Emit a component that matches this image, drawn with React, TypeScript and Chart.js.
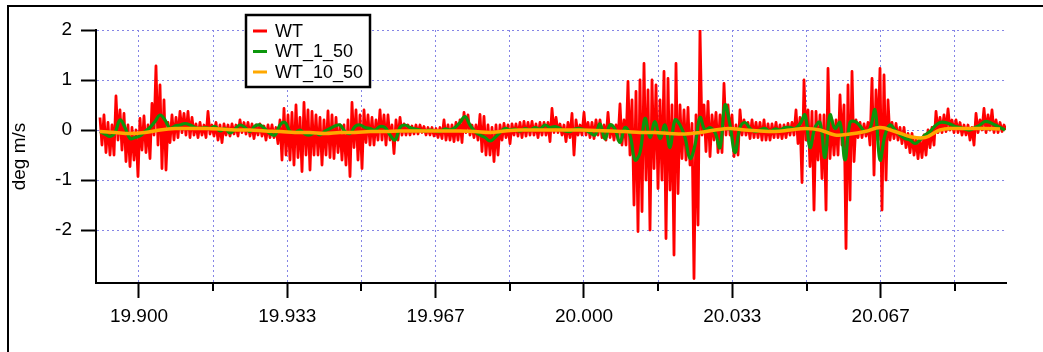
import React, { useEffect, useRef } from 'react';
import { Chart, registerables } from 'chart.js';

Chart.register(...registerables);

const SERIES_NAMES = ['WT', 'WT_1_50', 'WT_10_50'];
const SERIES_COLORS = ['#ff0000', '#0c960c', '#ffa800'];

// Time axis (days)
const X_MIN = 19.89034;
const X_MAX = 20.09483;
const X_MAJOR_TICKS = [19.9, 19.933333, 19.966667, 20.0, 20.033333, 20.066667];
const X_TICK_LABELS = ['19.900', '19.933', '19.967', '20.000', '20.033', '20.067'];
const X_MINOR_TICKS = [19.916667, 19.95, 19.983333, 20.016667, 20.05, 20.083333];
const Y_TICKS = [-2, -1, 0, 1, 2];
const Y_MIN = -3.06;
const Y_MAX = 2;

// Raw WT (min/max pairs), one value every WT_DT days starting at WT_T0
const WT_T0 = 19.891236;
const WT_DT = 0.00044944;
const WT = [
  0.25, -0.3, 0.3, -0.45, 0.15, -0.5, 0.1, -0.5, 0.68, -0.2, 0.4, -0.4, 0.33, -0.63, 0.1, -0.73, 0.05, -0.6, 0.0, -0.93,
  0.23, -0.4, 0.28, -0.45, 0.1, -0.57, 0.53, -0.1, 1.28, -0.3, 0.9, -0.77, 0.6, -0.8, 0.15, -0.25, 0.3, -0.2, 0.25, -0.15,
  0.37, -0.05, 0.33, -0.1, 0.37, -0.15, 0.25, -0.1, 0.12, -0.15, 0.15, -0.1, 0.1, -0.15, 0.37, -0.08, 0.1, -0.12, 0.15, -0.2,
  0.1, -0.25, 0.12, -0.1, 0.1, -0.12, 0.12, -0.08, 0.1, -0.12, 0.2, -0.05, 0.15, -0.08, 0.15, -0.12,

  0.12, -0.17, 0.1, -0.1, 0.12, -0.12, 0.08, -0.2, 0.1, -0.15, 0.1, -0.15, 0.05, -0.27, 0.2, -0.6, 0.43, -0.5, 0.3, -0.6,
  0.35, -0.7, 0.5, -0.55, 0.25, -0.83, 0.55, -0.5, 0.4, -0.8, 0.37, -0.5, 0.3, -0.5, 0.25, -0.7, 0.2, -0.5, 0.38, -0.55,
  0.3, -0.57, 0.25, -0.45, 0.1, -0.6, 0.1, -0.7, 0.2, -0.93, 0.55, -0.35, 0.4, -0.6, 0.3, -0.77, 0.4, -0.25, 0.3, -0.3,
  0.25, -0.3, 0.2, -0.2, 0.4, -0.2, 0.3, -0.3, 0.3, -0.2, 0.1, -0.47, 0.2, -0.2, 0.25, -0.1,

  0.12, -0.1, 0.1, -0.1, 0.08, -0.08, 0.1, -0.08, 0.1, -0.05, 0.07, -0.1, 0.05, -0.1, 0.05, -0.12, 0.03, -0.15, 0.05, -0.17,
  0.2, -0.2, 0.1, -0.2, 0.1, -0.23, 0.15, -0.2, 0.2, -0.25, 0.35, -0.05, 0.3, -0.1, 0.1, -0.15, 0.1, -0.2, 0.31, -0.43,
  0.27, -0.5, 0.1, -0.5, 0.05, -0.63, 0.1, -0.5, 0.1, -0.2, 0.13, -0.15, 0.1, -0.27, 0.12, -0.1, 0.12, -0.12, 0.15, -0.15,
  0.17, -0.12, 0.15, -0.1, 0.17, -0.1, 0.12, -0.15, 0.15, -0.1, 0.15, -0.1, 0.15, -0.23, 0.43, -0.05,

  0.25, -0.05, 0.12, -0.1, 0.1, -0.23, 0.15, -0.15, 0.33, -0.5, 0.2, -0.1, 0.1, -0.1, 0.35, -0.1, 0.15, -0.15, 0.15, -0.17,
  0.2, -0.1, 0.2, -0.15, 0.1, -0.2, 0.35, -0.15, 0.1, -0.2, 0.1, -0.2, 0.52, -0.3, 0.2, -0.3, 0.97, -0.5, 0.6, -1.5,
  0.77, -2.03, 1.0, -1.63, 1.33, -1.0, 0.8, -2.0, 1.0, -0.77, 0.9, -1.17, 0.6, -1.0, 1.17, -2.17, 1.03, -1.2, 0.5, -2.5,
  1.33, -1.27, 0.5, -0.57, 0.4, -0.6, 0.45, -0.7, 0.13, -2.97, 0.3, -1.9, 2.0, -0.1, 0.5, -0.43,

  0.57, -0.53, 0.3, -0.2, 0.35, -0.45, 0.3, -0.45, 0.93, -0.1, 0.5, -0.1, 0.3, -0.53, 0.1, -0.5, 0.4, -0.1, 0.2, -0.1,
  0.15, -0.17, 0.2, -0.15, 0.15, -0.15, 0.15, -0.2, 0.2, -0.2, 0.12, -0.2, 0.12, -0.15, 0.15, -0.15, 0.1, -0.17, 0.1, -0.15,
  0.13, -0.1, 0.15, -0.1, 0.4, -0.27, 0.25, -1.05, 1.0, -0.2, 0.4, -0.73, 0.37, -1.6, 0.37, -0.6, 0.3, -0.97, 0.3, -1.6,
  1.23, -0.57, 0.2, -0.5, 0.2, -0.5, 0.7, -0.3, 0.5, -2.37, 0.9, -1.4, 1.17, -0.63, 0.2, -0.15,

  0.15, -0.15, 0.12, -0.12, 0.15, -0.3, 1.03, -0.9, 0.8, -0.2, 1.23, -1.6, 1.1, -1.0, 0.6, -0.2, 0.15, -0.17, 0.13, -0.2,
  0.05, -0.27, 0.05, -0.35, -0.07, -0.45, -0.07, -0.5, -0.15, -0.57, -0.17, -0.55, -0.1, -0.5, 0.0, -0.35, 0.05, -0.3, 0.37, -0.05,
  0.25, -0.05, 0.3, -0.03, 0.42, 0.0, 0.2, -0.05, 0.2, -0.05, 0.15, -0.1, 0.1, -0.1, 0.1, -0.2, 0.05, -0.3, 0.33, -0.05,
  0.2, 0.0, 0.43, -0.05, 0.3, 0.0, 0.4, -0.05, 0.2, -0.05, 0.15, -0.03, 0.1, 0.0,
];

// WT_1_50, one value every W1_DT days starting at W1_T0
const W1_T0 = 19.891236;
const W1_DT = 0.0011236;
const WT_1_50 = [
  -0.03, -0.08, -0.13, -0.05, 0.2, 0.05, -0.17, -0.15, -0.12, -0.03,
  0.05, 0.17, 0.3, 0.2, 0.03, 0.08, 0.1, 0.13, 0.1, 0.05,
  0.03, 0.05, 0.03, 0.07, -0.02, 0.03, -0.06, 0.02, 0.1, 0.05,
  -0.03,
  0.08, 0.1, 0.02, -0.07, -0.1, 0.1, 0.15, -0.03, -0.05, 0.0,
  -0.08, -0.1, -0.05, -0.1, -0.02, 0.03, 0.08, 0.1, -0.03, -0.07,
  0.07, 0.1, 0.05, 0.03, 0.0, 0.07, 0.05, -0.1, -0.2, 0.05,
  0.1,
  0.05, 0.02, 0.0, -0.02, 0.0, -0.02, -0.03, 0.02, 0.0, 0.05,
  0.15, 0.27, 0.1, -0.03, -0.1, -0.15, -0.22, -0.15, -0.05, 0.03,
  0.0, 0.02, -0.02, 0.03, 0.0, 0.05, 0.02, 0.1, 0.05, 0.07,
  0.03,
  -0.02, -0.03, 0.02, 0.03, 0.0, -0.05, -0.1, 0.12, -0.18, 0.1,
  0.02, -0.25, 0.05, -0.1, -0.6, -0.45, 0.23, -0.15, 0.17, -0.17,
  0.1, -0.35, 0.2, 0.1, -0.15, -0.57, -0.3, 0.25, 0.0, 0.05,
  -0.05,
  -0.35, 0.5, 0.1, -0.45, 0.05, 0.15, 0.03, -0.03, 0.0, 0.03,
  -0.03, 0.02, 0.0, 0.05, 0.05, 0.03, 0.12, 0.3, -0.35, 0.05,
  0.15, -0.55, 0.3, 0.03, 0.15, -0.6, 0.15, 0.17, 0.08, -0.03,
  0.03,
  0.4, -0.6, -0.1, 0.1, 0.0, -0.1, -0.17, -0.2, -0.27, -0.2,
  -0.1, -0.03, 0.08, 0.15, 0.15, 0.12, 0.07, 0.05, 0.02, 0.0,
  0.05, 0.1, 0.17, 0.15, 0.1, 0.05, 0.0,
];

// WT_10_50, one value every W10_DT days starting at W10_T0
const W10_T0 = 19.891236;
const W10_DT = 0.0033708;
const WT_10_50 = [
  -0.03, -0.05, -0.07, -0.05, 0.0, 0.03, 0.03, 0.03, 0.02, 0.0,
  0.0, -0.02, -0.03, -0.05, -0.05, -0.07, -0.05, -0.05, -0.03, -0.03,
  -0.02, -0.02, -0.02, -0.02, -0.02, -0.03, -0.05, -0.02, 0.0, 0.0,
  0.0, 0.0, 0.0, -0.01, -0.02, -0.03, -0.05, -0.05, -0.07, -0.08,
  -0.05, 0.0, 0.03, 0.0, -0.02, -0.03, 0.0, 0.03, 0.0, -0.1,
  -0.08, -0.03, 0.05, -0.03, -0.13, -0.15, 0.0, 0.03, 0.03, 0.03,
  0.02,
];

const FONT_FAMILY = '"Liberation Sans", Arial, Helvetica, sans-serif';
const GRID_COLOR = '#8585e6';

function toPoints(values: number[], t0: number, dt: number) {
  return values.map((y, i) => ({ x: t0 + i * dt, y }));
}

function isMajor(v: number) {
  return X_MAJOR_TICKS.some((m) => Math.abs(m - v) < 1e-4);
}

// Short minor tick marks on the time axis plus the boxed legend
const decorations = {
  id: 'decorations',
  afterDraw(chart: any) {
    const { ctx, chartArea } = chart;
    const xScale = chart.scales.x;
    ctx.save();
    ctx.strokeStyle = '#000';
    ctx.lineWidth = 2;
    X_MINOR_TICKS.forEach((v) => {
      const px = Math.round(xScale.getPixelForValue(v));
      ctx.beginPath();
      ctx.moveTo(px, chartArea.bottom);
      ctx.lineTo(px, chartArea.bottom + 8);
      ctx.stroke();
    });

    // legend
    const boxX = 246;
    const boxY = 15;
    const boxW = 124;
    const boxH = 72;
    ctx.fillStyle = '#fff';
    ctx.fillRect(boxX, boxY, boxW, boxH);
    ctx.lineWidth = 2.5;
    ctx.strokeStyle = '#000';
    ctx.strokeRect(boxX, boxY, boxW, boxH);
    ctx.font = `18px ${FONT_FAMILY}`;
    ctx.textBaseline = 'middle';
    ctx.textAlign = 'left';
    chart.data.datasets.forEach((ds: any, i: number) => {
      const cy = 31 + i * 20.5;
      ctx.strokeStyle = ds.borderColor;
      ctx.lineWidth = 3;
      ctx.beginPath();
      ctx.moveTo(253, cy);
      ctx.lineTo(267, cy);
      ctx.stroke();
      ctx.fillStyle = '#000';
      ctx.fillText(ds.label, 275, cy + 1);
    });
    ctx.restore();
  },
};

export default function App() {
  const canvasRef = useRef<HTMLCanvasElement>(null);

  useEffect(() => {
    const canvas = canvasRef.current;
    if (!canvas) return;
    const chart = new Chart(canvas, {
      type: 'line',
      data: {
        datasets: [
          {
            label: SERIES_NAMES[0],
            data: toPoints(WT, WT_T0, WT_DT),
            borderColor: SERIES_COLORS[0],
            borderWidth: 2.8,
            borderJoinStyle: 'round',
            pointRadius: 0,
            tension: 0,
            order: 2,
          },
          {
            label: SERIES_NAMES[1],
            data: toPoints(WT_1_50, W1_T0, W1_DT),
            borderColor: SERIES_COLORS[1],
            borderWidth: 3.2,
            pointRadius: 0,
            tension: 0.4,
            order: 1,
          },
          {
            label: SERIES_NAMES[2],
            data: toPoints(WT_10_50, W10_T0, W10_DT),
            borderColor: SERIES_COLORS[2],
            borderWidth: 3.5,
            pointRadius: 0,
            tension: 0.4,
            order: 0,
          },
        ],
      },
      options: {
        responsive: false,
        animation: false,
        devicePixelRatio: 1,
        events: [],
        layout: { padding: { left: 8, right: 37, top: 30, bottom: 0 } },
        plugins: {
          legend: { display: false },
          tooltip: { enabled: false },
        },
        scales: {
          x: {
            type: 'linear',
            min: X_MIN,
            max: X_MAX,
            afterBuildTicks: (s: any) => {
              s.ticks = [...X_MAJOR_TICKS, ...X_MINOR_TICKS]
                .sort((a, b) => a - b)
                .map((v) => ({ value: v }));
            },
            afterFit: (s: any) => {
              s.height = 69;
            },
            ticks: {
              autoSkip: false,
              maxRotation: 0,
              minRotation: 0,
              padding: 7,
              color: '#000',
              font: { family: FONT_FAMILY, size: 19 },
              callback: (v: any) => {
                const idx = X_MAJOR_TICKS.findIndex((m) => Math.abs(m - Number(v)) < 1e-4);
                return idx >= 0 ? X_TICK_LABELS[idx] : '';
              },
            },
            grid: {
              color: GRID_COLOR,
              lineWidth: 1,
              tickLength: 15,
              tickWidth: 2,
              tickColor: (c: any) => (c.tick && isMajor(c.tick.value) ? '#000' : 'rgba(0,0,0,0)'),
            },
            border: { display: true, color: '#000', width: 2, dash: [2, 3] },
          },
          y: {
            type: 'linear',
            min: Y_MIN,
            max: Y_MAX,
            afterBuildTicks: (s: any) => {
              s.ticks = Y_TICKS.map((v) => ({ value: v }));
            },
            afterFit: (s: any) => {
              s.width = 88;
            },
            title: {
              display: true,
              text: 'deg m/s',
              color: '#000',
              font: { family: FONT_FAMILY, size: 19 },
              padding: { top: 0, bottom: 0 },
            },
            ticks: {
              padding: 9,
              color: '#000',
              font: { family: FONT_FAMILY, size: 19 },
              callback: (v: any) => String(v),
            },
            grid: {
              color: GRID_COLOR,
              lineWidth: 1,
              tickLength: 15,
              tickWidth: 2,
              tickColor: '#000',
            },
            border: { display: true, color: '#000', width: 2, dash: [2, 3] },
          },
        },
      },
      plugins: [decorations],
    });
    return () => chart.destroy();
  }, []);

  return (
    <div
      style={{
        position: 'fixed',
        left: 0,
        top: 0,
        width: 1043,
        height: 352,
        overflow: 'hidden',
        background: '#fff',
      }}
    >
      <canvas
        ref={canvasRef}
        width={1043}
        height={352}
        style={{ position: 'absolute', left: 0, top: 0, width: 1043, height: 352 }}
      />
      <div
        style={{
          position: 'absolute',
          left: 7,
          top: 5,
          width: 1100,
          height: 400,
          borderLeft: '2px solid #000',
          borderTop: '2px solid #000',
          pointerEvents: 'none',
        }}
      />
    </div>
  );
}
